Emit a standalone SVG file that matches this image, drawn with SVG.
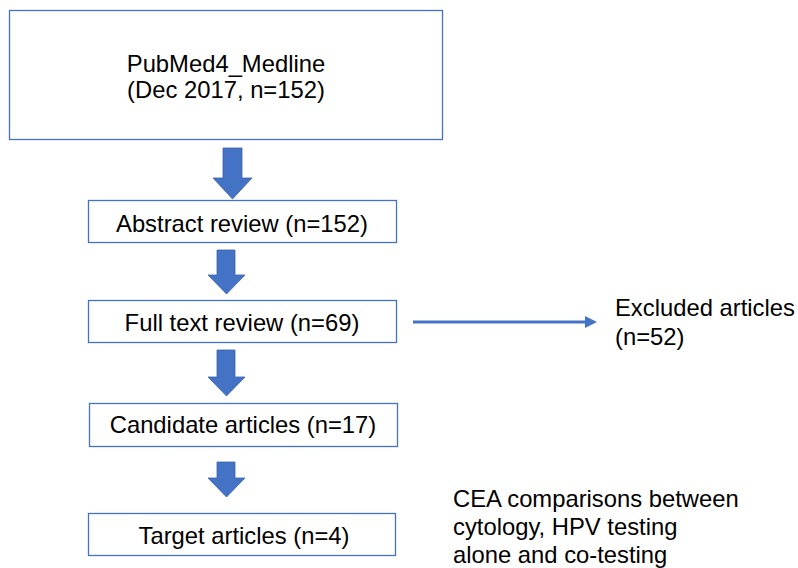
<svg xmlns="http://www.w3.org/2000/svg" width="798" height="568" viewBox="0 0 798 568">
<style>
.box{fill:#ffffff;stroke:#4472C4;stroke-width:1.3}
.blk{fill:#4472C4;stroke:#3A62AC;stroke-width:0.8}
.t{font-family:"Liberation Sans",Arial,sans-serif;font-size:23.8px;fill:#000000}
.c{text-anchor:middle}
</style>
<rect width="798" height="568" fill="#ffffff"/>
<g id="n_pubmed">
<rect class="box" x="9.5" y="10.5" width="433" height="129"/>
<text class="t c" x="226" y="72">PubMed4_Medline</text>
<text class="t c" x="226" y="98">(Dec 2017, n=152)</text>
</g>
<g id="n_abstract">
<rect class="box" x="88.5" y="200.5" width="308" height="42"/>
<text class="t c" x="242" y="232">Abstract review (n=152)</text>
</g>
<g id="n_fulltext">
<rect class="box" x="88.5" y="300.5" width="308" height="42"/>
<text class="t c" x="242" y="331">Full text review (n=69)</text>
</g>
<g id="n_candidate">
<rect class="box" x="89.5" y="403.5" width="308" height="43"/>
<text class="t c" x="243" y="433">Candidate articles (n=17)</text>
</g>
<g id="n_target">
<rect class="box" x="88.5" y="513.5" width="307" height="42"/>
<text class="t c" x="244" y="544">Target articles (n=4)</text>
</g>
<g id="n_excluded">
<text class="t" x="615" y="316">Excluded articles</text>
<text class="t" x="615" y="345">(n=52)</text>
</g>
<g id="n_cea">
<text class="t" x="453" y="507">CEA comparisons between</text>
<text class="t" x="453" y="535">cytology, HPV testing</text>
<text class="t" x="453" y="563">alone and co-testing</text>
</g>
<g id="connectors">
<polygon class="blk" points="223,148 242,148 242,178 252,178 232.5,199 213,178 223,178"/>
<polygon class="blk" points="217,250 235,250 235,275 245,275 226.5,294 208,275 217,275"/>
<polygon class="blk" points="217,350 235,350 235,377 245,377 226.5,396 208,377 217,377"/>
<polygon class="blk" points="217,462 235,462 235,478 245,478 226.5,497 208,478 217,478"/>
<line x1="413" y1="322" x2="587" y2="322" stroke="#4472C4" stroke-width="3.2"/>
<polygon points="585,316 597,322 585,328" fill="#4472C4"/>
</g>
</svg>
